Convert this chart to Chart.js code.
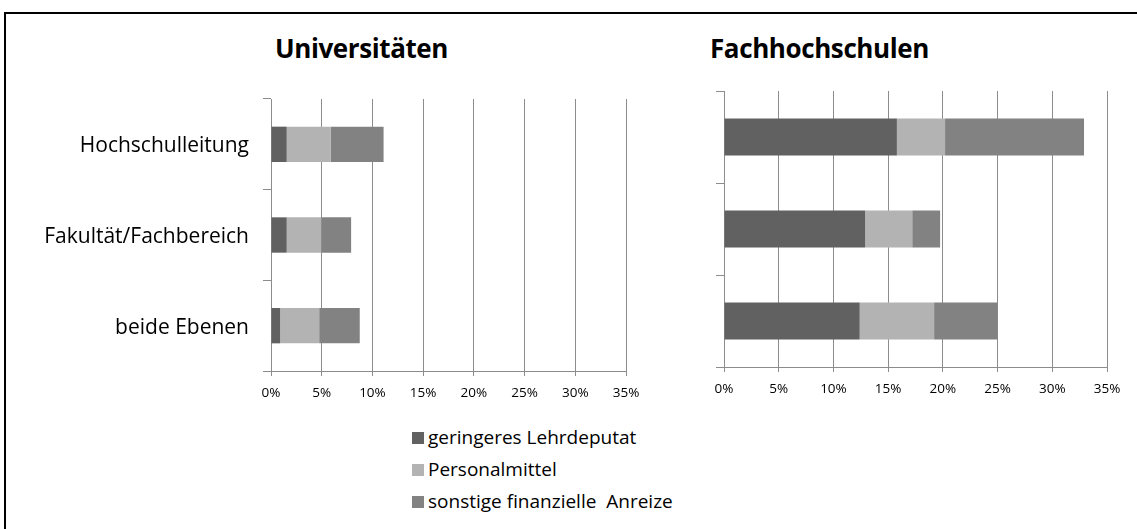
<!DOCTYPE html>
<html lang="de">
<head>
<meta charset="utf-8">
<script src="https://cdn.jsdelivr.net/npm/chart.js@4.4.1/dist/chart.umd.min.js"></script>
<style>
    html, body { margin: 0; padding: 0; background: #fff; overflow: hidden; }
    body { width: 1137px; height: 529px; position: relative; font-family: "Open Sans", sans-serif; }
    #frame { position: absolute; left: 4px; top: 12px; width: 1300px; height: 700px; border-top: 2px solid #000; border-left: 2px solid #000; }
    .title { position: absolute; font-weight: bold; font-size: 26px; letter-spacing: -0.4px; line-height: normal; color: #000; white-space: nowrap; }
    .box { position: absolute; }
    #legend { position: absolute; left: 412px; top: 423px; font-size: 19px; color: #000; }
    #legend div { height: 32px; line-height: 28px; white-space: pre; }
    #legend span { display: inline-block; width: 12px; height: 12px; margin-right: 4px; vertical-align: 0px; }
</style>
</head>
<body>
<div id="frame"></div>
<div class="title" style="left:275px; top:30px;">Universitäten</div>
<div class="title" style="left:710px; top:30px;">Fachhochschulen</div>
<div class="box" style="left:0px; top:90px; width:650px; height:316px;"><canvas id="uni-chart"></canvas></div>
<div class="box" style="left:680px; top:82px; width:450px; height:320px;"><canvas id="fh-chart"></canvas></div>
<div id="legend"></div>
<script>
// Kategorien und Reihen
const categories = ["Hochschulleitung", "Fakultät/Fachbereich", "beide Ebenen"];
const seriesNames = ["geringeres Lehrdeputat", "Personalmittel", "sonstige finanzielle  Anreize"];
const seriesColors = ["#616161", "#b3b3b3", "#828282"];

// Universitäten (Prozent)
const uniLehrdeputat = [1.55, 1.55, 0.9];
const uniPersonal = [4.35, 3.4, 3.85];
const uniSonstige = [5.2, 2.95, 4.0];

// Fachhochschulen (Prozent)
const fhLehrdeputat = [15.8, 12.9, 12.4];
const fhPersonal = [4.4, 4.3, 6.8];
const fhSonstige = [12.7, 2.55, 5.8];

// Achse
const xMin = 0;
const xMax = 35;
const xStep = 5;

const axisColor = "#8c8c8c";

function buildDatasets(values, barPct) {
    return values.map((data, i) => ({
        label: seriesNames[i],
        data: data,
        backgroundColor: seriesColors[i],
        borderWidth: 0,
        barPercentage: barPct,
        categoryPercentage: 1
    }));
}

function createChart(canvasId, values, opts) {
    const ctx = document.getElementById(canvasId).getContext("2d");
    return new Chart(ctx, {
        type: "bar",
        data: {
            labels: categories,
            datasets: buildDatasets(values, opts.barPct)
        },
        options: {
            indexAxis: "y",
            responsive: true,
            maintainAspectRatio: false,
            animation: false,
            layout: { padding: { top: opts.padTop, right: opts.padRight, left: 0, bottom: 0 } },
            plugins: {
                legend: { display: false },
                tooltip: { enabled: false }
            },
            scales: {
                x: {
                    stacked: true,
                    min: xMin,
                    max: xMax,
                    border: { color: axisColor, width: 1 },
                    grid: { color: axisColor, lineWidth: 1, tickLength: 5, tickColor: axisColor },
                    ticks: {
                        stepSize: xStep,
                        color: "#000",
                        padding: 9,
                        maxRotation: 0,
                        font: { family: "Open Sans", size: 13.5 },
                        callback: v => v + "%"
                    },
                    afterFit: scale => {
                        scale.height = 35;
                        scale.paddingLeft = 0;
                        scale.paddingRight = 0;
                    }
                },
                y: {
                    stacked: true,
                    border: { color: axisColor, width: 1 },
                    grid: { drawOnChartArea: false, offset: true, tickLength: 8, tickColor: axisColor, color: axisColor },
                    ticks: {
                        display: opts.showLabels,
                        color: "#000",
                        padding: 14,
                        labelOffset: 2,
                        font: { family: "Open Sans", size: 21 }
                    },
                    afterFit: scale => {
                        scale.width = opts.yWidth;
                        scale.paddingTop = 0;
                        scale.paddingBottom = 0;
                    }
                }
            }
        }
    });
}

createChart("uni-chart", [uniLehrdeputat, uniPersonal, uniSonstige],
    { barPct: 0.39, padTop: 9, padRight: 24, yWidth: 271, showLabels: true });
createChart("fh-chart", [fhLehrdeputat, fhPersonal, fhSonstige],
    { barPct: 0.4, padTop: 9, padRight: 23, yWidth: 44, showLabels: false });

// Gemeinsame Legende
const legendEl = document.getElementById("legend");
seriesNames.forEach((name, i) => {
    const row = document.createElement("div");
    const sw = document.createElement("span");
    sw.style.background = seriesColors[i];
    row.appendChild(sw);
    row.appendChild(document.createTextNode(name));
    legendEl.appendChild(row);
});
</script>
</body>
</html>
